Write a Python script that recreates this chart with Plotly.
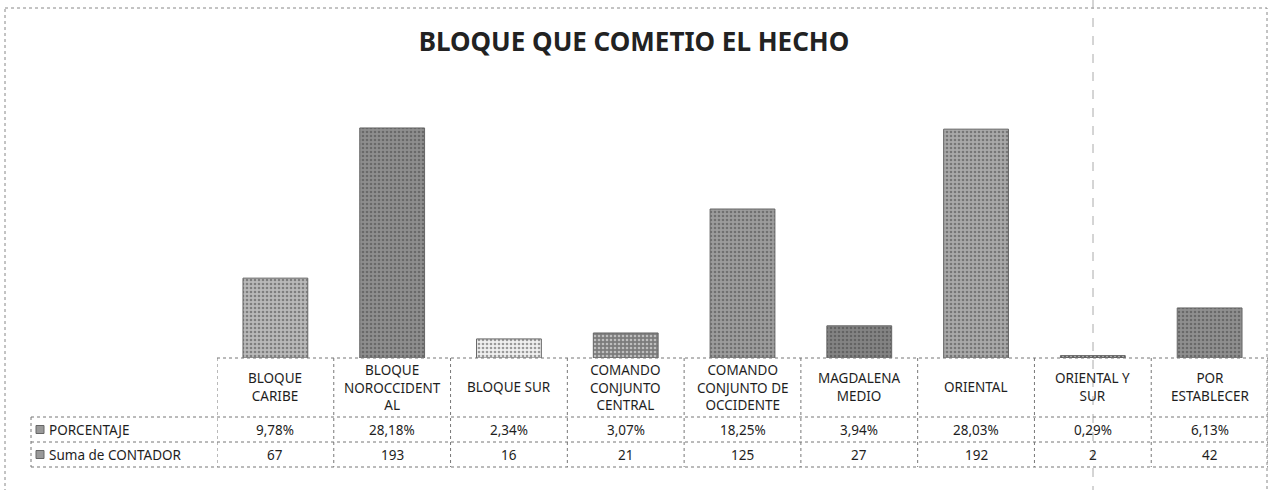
import plotly.graph_objects as go

# data
categorias = ["BLOQUE CARIBE", "BLOQUE NOROCCIDENTAL", "BLOQUE SUR",
              "COMANDO CONJUNTO CENTRAL", "COMANDO CONJUNTO DE OCCIDENTE",
              "MAGDALENA MEDIO", "ORIENTAL", "ORIENTAL Y SUR", "POR ESTABLECER"]
encabezados = ["BLOQUE<br>CARIBE", "BLOQUE<br>NOROCCIDENT<br>AL", "BLOQUE SUR",
               "COMANDO<br>CONJUNTO<br>CENTRAL", "COMANDO<br>CONJUNTO DE<br>OCCIDENTE",
               "MAGDALENA<br>MEDIO", "ORIENTAL", "ORIENTAL Y<br>SUR", "POR<br>ESTABLECER"]
porcentaje = [9.78, 28.18, 2.34, 3.07, 18.25, 3.94, 28.03, 0.29, 6.13]
contador = [67, 193, 16, 21, 125, 27, 192, 2, 42]

colores = ["#b9b9b9", "#8e8e8e", "#f0f0f0", "#7c7c7c", "#9c9c9c",
           "#838383", "#a9a9a9", "#5a5a5a", "#8f8f8f"]

W, H = 1272, 490
L, R, T, B = 217, 4, 122, 132
PW, PH = W - L - R, H - T - B


def px_x(x):
    # pixel -> paper x
    return (x - L) / PW


def px_y(y):
    # pixel -> paper y
    return (H - B - y) / PH


fig = go.Figure()
fig.add_trace(go.Bar(
    x=categorias, y=contador, width=0.555,
    marker=dict(color=colores, line=dict(color="#666", width=1),
                pattern=dict(shape=".", size=4, solidity=0.35,
                             fgcolor="#555", fillmode="overlay")),
    name="Suma de CONTADOR", showlegend=False,
))

grid = dict(color="#777", width=1, dash="dot")
shapes = []
# outer chart border
shapes.append(dict(type="rect", xref="paper", yref="paper",
                   x0=px_x(5), x1=px_x(1267), y0=px_y(8), y1=px_y(500),
                   line=dict(color="#888", width=1, dash="dot")))
# page fold line from the scan
shapes.append(dict(type="line", xref="paper", yref="paper",
                   x0=px_x(1093), x1=px_x(1093), y0=px_y(0), y1=px_y(490),
                   line=dict(color="#aaa", width=1, dash="dash")))
# table rows
shapes.append(dict(type="line", xref="paper", yref="paper", x0=0, x1=1,
                   y0=0, y1=0, line=grid))
for yy in (417, 442, 467):
    shapes.append(dict(type="line", xref="paper", yref="paper",
                       x0=px_x(31), x1=1, y0=px_y(yy), y1=px_y(yy), line=grid))
# table columns
for i in range(len(categorias) + 1):
    shapes.append(dict(type="line", xref="x", yref="paper",
                       x0=i - 0.5, x1=i - 0.5, y0=0, y1=px_y(467), line=grid))
shapes.append(dict(type="line", xref="paper", yref="paper",
                   x0=px_x(31), x1=px_x(31), y0=px_y(417), y1=px_y(467), line=grid))
# legend keys in the row labels
for yy in (429.5, 454.5):
    shapes.append(dict(type="rect", xref="paper", yref="paper",
                       x0=px_x(36), x1=px_x(44), y0=px_y(yy + 4), y1=px_y(yy - 4),
                       fillcolor="#999", line=dict(color="#666", width=1)))

fuente = dict(family="Noto Sans", size=13.5, color="#1e1e1e")
ann = []
for i, c in enumerate(categorias):
    ann.append(dict(x=c, xref="x", y=px_y(387), yref="paper", text=encabezados[i],
                    showarrow=False, font=fuente, yanchor="middle", align="center"))
    ann.append(dict(x=c, xref="x", y=px_y(429.5), yref="paper",
                    text=f"{porcentaje[i]:.2f}%".replace(".", ","),
                    showarrow=False, font=fuente, yanchor="middle"))
    ann.append(dict(x=c, xref="x", y=px_y(454.5), yref="paper", text=str(contador[i]),
                    showarrow=False, font=fuente, yanchor="middle"))
for yy, txt in ((429.5, "PORCENTAJE"), (454.5, "Suma de CONTADOR")):
    ann.append(dict(x=px_x(47), xref="paper", y=px_y(yy), yref="paper", text=txt,
                    showarrow=False, font=fuente, xanchor="left", yanchor="middle"))

fig.update_layout(
    width=W, height=H,
    margin=dict(l=L, r=R, t=T, b=B),
    paper_bgcolor="white", plot_bgcolor="white",
    title=dict(text="<b>BLOQUE QUE COMETIO EL HECHO</b>", x=px_x(634), xanchor="center",
               xref="paper", y=1 - 42 / H, yanchor="middle", yref="container",
               font=dict(family="Noto Sans", size=26, color="#222")),
    xaxis=dict(type="category", showticklabels=False, showgrid=False,
               zeroline=False, showline=False, range=[-0.5, 8.5]),
    yaxis=dict(range=[0, 198], visible=False),
    shapes=shapes, annotations=ann,
)

# drop the default 8px body margin so the figure fills the window
fig.write_html("out.html", config={"displayModeBar": False},
               post_script="document.body.style.margin='0';")
